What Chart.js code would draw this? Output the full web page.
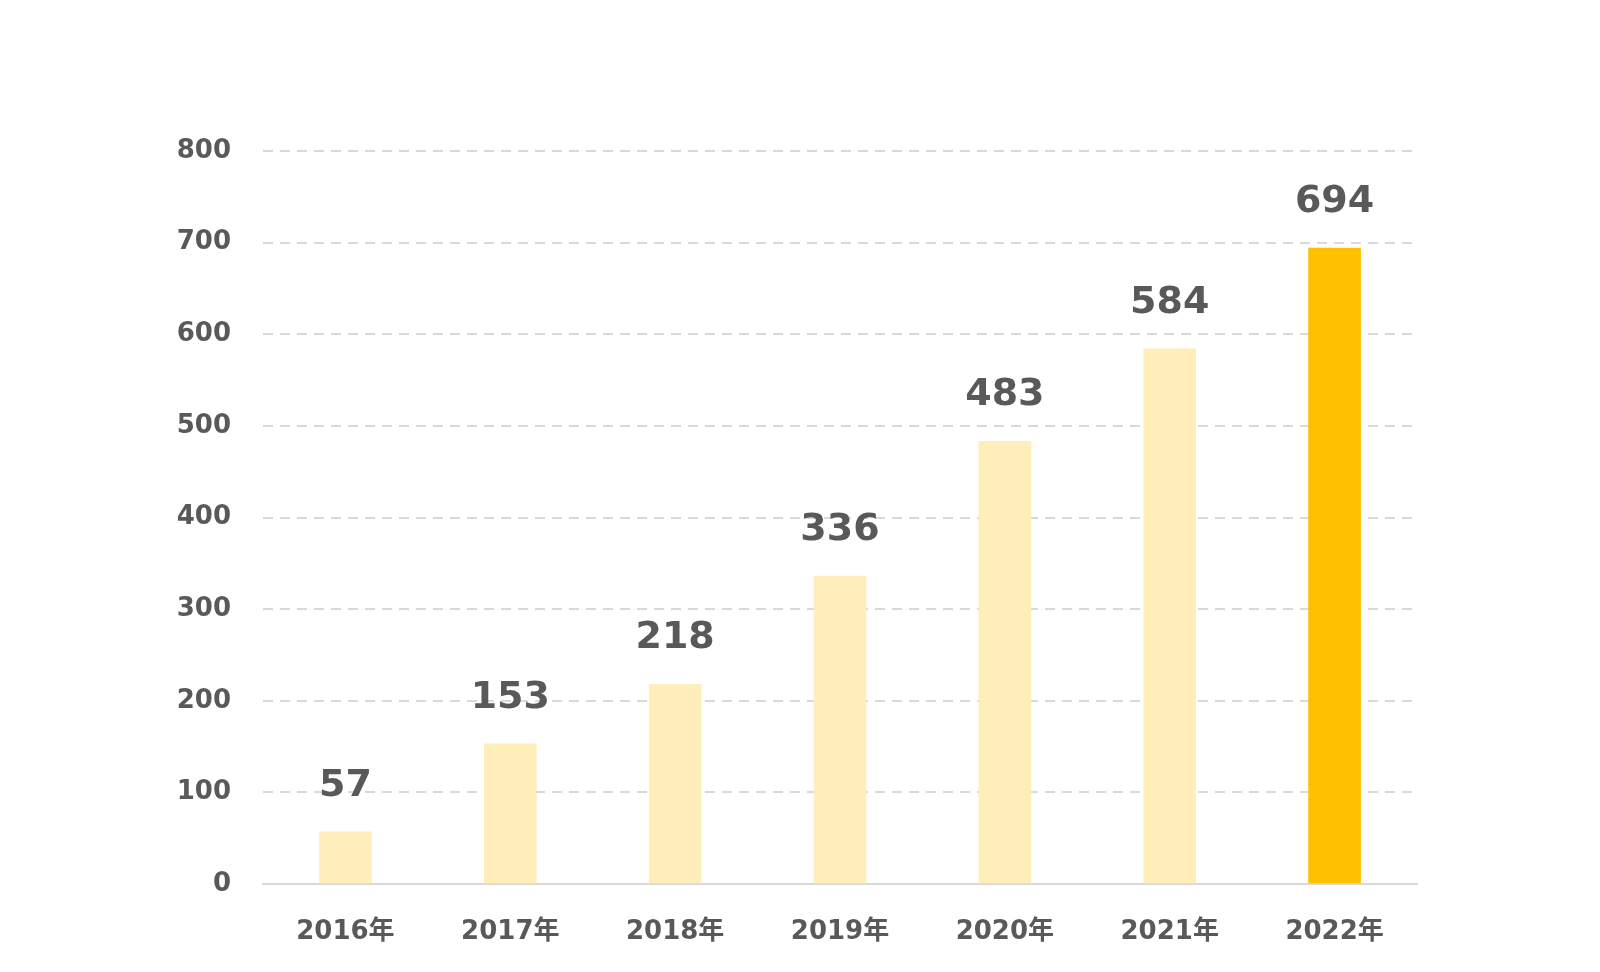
<!DOCTYPE html>
<html>
<head>
<meta charset="utf-8">
<script src="https://cdn.jsdelivr.net/npm/chart.js@4"></script>
<style>
  html, body { margin: 0; padding: 0; background: #fff; }
  #wrap { width: 1600px; height: 972px; }
</style>
</head>
<body>
<div id="wrap"><canvas id="c" width="1600" height="972"></canvas></div>
<script>
// データ
const years = ['2016年', '2017年', '2018年', '2019年', '2020年', '2021年', '2022年'];
const counts = [57, 153, 218, 336, 483, 584, 694];
const yTicks = [0, 100, 200, 300, 400, 500, 600, 700, 800];

const FONT = '"DejaVu Sans", Verdana, "Noto Sans CJK JP", sans-serif';
const TEXT = '#595959';

// 最後の年だけ濃い色
const barColors = counts.map((v, i) => i === counts.length - 1 ? '#FFC000' : '#FFEDBA');

// 棒の上に数値を書く
const valueLabels = {
  id: 'valueLabels',
  afterDatasetsDraw(chart) {
    const ctx = chart.ctx;
    const meta = chart.getDatasetMeta(0);
    ctx.save();
    ctx.font = 'bold 38px ' + FONT;
    ctx.fillStyle = TEXT;
    ctx.textAlign = 'center';
    ctx.textBaseline = 'alphabetic';
    meta.data.forEach((bar, i) => {
      ctx.fillText(String(counts[i]), bar.x, bar.y - 36);
    });
    ctx.restore();
  }
};

new Chart(document.getElementById('c').getContext('2d'), {
  type: 'bar',
  data: {
    labels: years,
    datasets: [{
      data: counts,
      backgroundColor: barColors,
      barThickness: 52
    }]
  },
  options: {
    responsive: false,
    animation: false,
    layout: { padding: { top: 151, right: 183, bottom: 0, left: 0 } },
    plugins: { legend: { display: false }, tooltip: { enabled: false } },
    scales: {
      x: {
        grid: { display: false },
        border: { display: true, color: '#D9D9D9', width: 2 },
        ticks: {
          color: TEXT,
          padding: 25,
          font: { family: FONT, size: 26, weight: 'bold' }
        },
        afterFit(scale) { scale.height = 88; }
      },
      y: {
        min: 0,
        max: 800,
        afterBuildTicks(scale) { scale.ticks = yTicks.map(v => ({ value: v })); },
        grid: { color: '#D9D9D9', lineWidth: 2, drawTicks: false },
        border: { display: false, dash: [10, 7] },
        ticks: {
          color: TEXT,
          padding: 32,
          font: { family: FONT, size: 26, weight: 'bold' }
        },
        afterFit(scale) { scale.width = 263; }
      }
    }
  },
  plugins: [valueLabels]
});
</script>
</body>
</html>
